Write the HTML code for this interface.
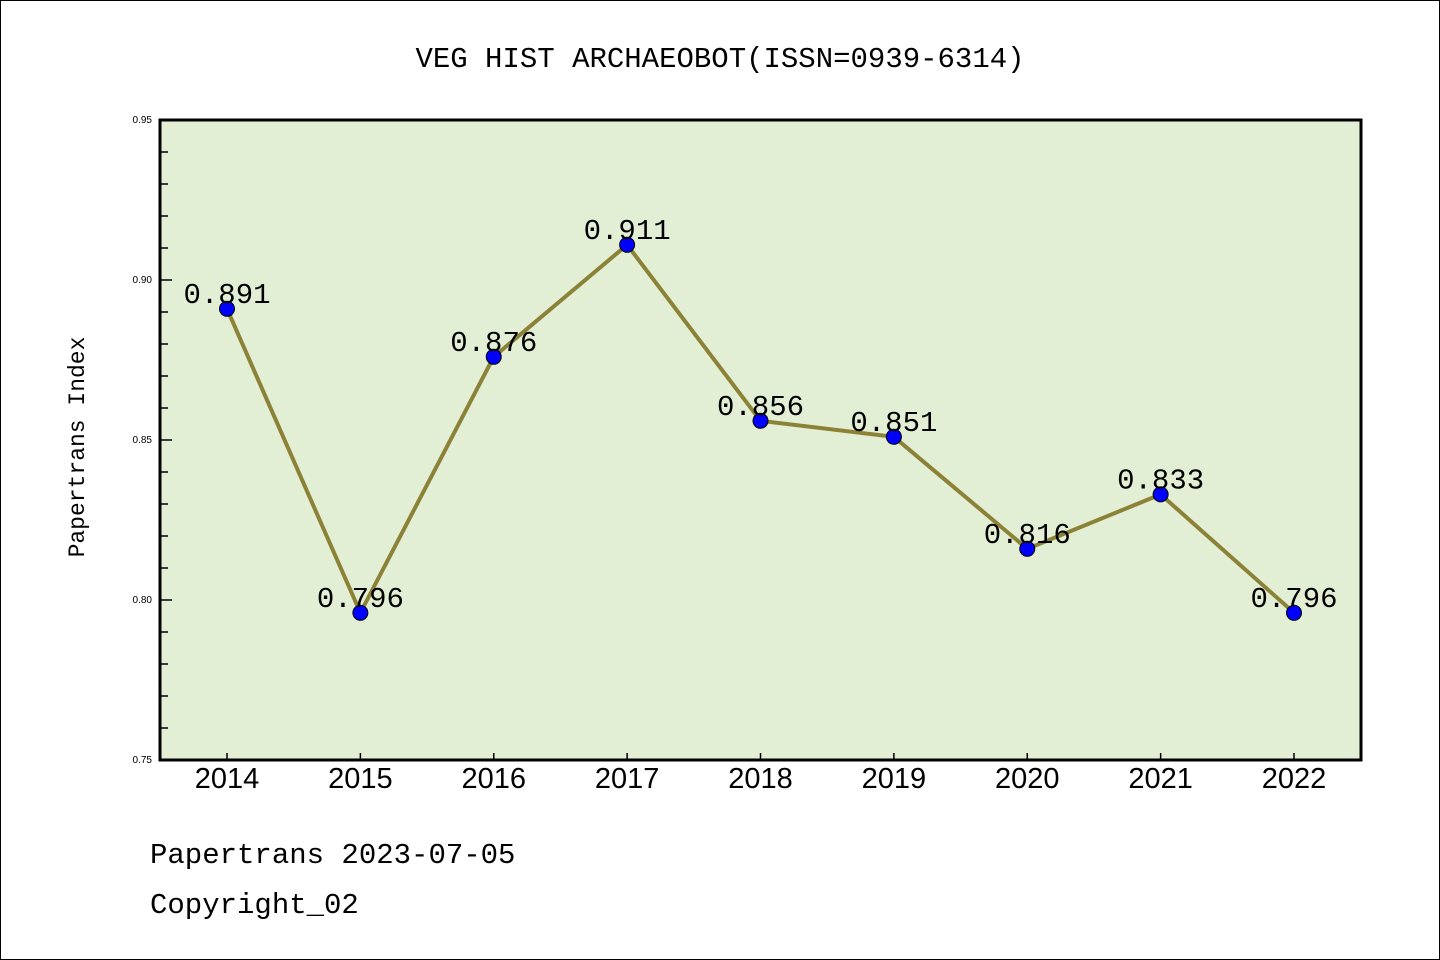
<!DOCTYPE html>
<html><head><meta charset="utf-8"><style>
body{margin:0;background:#fff}
svg{display:block;font-family:"Liberation Sans","WenQuanYi Zen Hei",sans-serif}
.mono{font-family:"WenQuanYi Zen Hei","Liberation Mono",monospace}
</style></head><body>
<svg id="c" width="1440" height="960">
<rect x="0.5" y="0.5" width="1439" height="959" fill="#fff" stroke="#000"/>
<text class="mono" x="720" y="67" font-size="29" text-anchor="middle">VEG HIST ARCHAEOBOT(ISSN=0939-6314)</text>
<rect x="160" y="120" width="1201" height="640" fill="#e2efd5"/>
<g id="yticks"></g><g id="xticks"></g><g id="series"></g>
<rect x="160" y="120" width="1201" height="640" fill="none" stroke="#000" stroke-width="3"/>
<text class="mono" x="84" y="447" font-size="23" text-anchor="middle" transform="rotate(-90 84 447)">Papertrans Index</text>
<text class="mono" x="150" y="863" font-size="29">Papertrans 2023-07-05</text>
<text class="mono" x="150" y="913" font-size="29">Copyright_02</text>
</svg>
<script>
const years=["2014","2015","2016","2017","2018","2019","2020","2021","2022"];
const values=[0.891,0.796,0.876,0.911,0.856,0.851,0.816,0.833,0.796];
const yTickLabels=["0.75","0.80","0.85","0.90","0.95"];
const NS="http://www.w3.org/2000/svg";
const yMin=0.75,yMax=0.95;
function ys(v){return 760-(v-yMin)/(yMax-yMin)*640;}
function xs(i){return 227+i*(1294-227)/(years.length-1);}
function mk(t,a,p){const e=document.createElementNS(NS,t);for(const k in a)e.setAttribute(k,a[k]);p.appendChild(e);return e;}
const yt=document.getElementById('yticks');
for(let k=0;k<=20;k++){const v=yMin+k*0.01;const y=ys(v);const major=k%5===0;
const l=mk('line',{x1:160,x2:major?172:168,y1:y,y2:y,stroke:'#000','stroke-width':1.5},yt);

}
yTickLabels.forEach(s=>{const t=mk('text',{x:152,y:ys(parseFloat(s))+3,'font-size':10,'text-anchor':'end'},yt);t.textContent=s;

});
const xt=document.getElementById('xticks');
years.forEach((yr,i)=>{const x=xs(i);
const l=mk('line',{x1:x,x2:x,y1:760,y2:753,stroke:'#000','stroke-width':1.5},xt);


const t=mk('text',{x:x,y:788,'font-size':29,'text-anchor':'middle'},xt);t.textContent=yr;

});
const sg=document.getElementById('series');
const pl=mk('polyline',{points:values.map((v,i)=>xs(i)+','+ys(v)).join(' '),fill:'none',stroke:'#8b8237','stroke-width':4},sg);


values.forEach((v,i)=>{const c=mk('circle',{cx:xs(i),cy:ys(v),r:7.5,fill:'#0000ff',stroke:'#000','stroke-width':1},sg);

});
values.forEach((v,i)=>{const t=mk('text',{x:xs(i),y:ys(v)-6,'font-size':29,'text-anchor':'middle',class:'mono'},sg);t.textContent=v.toFixed(3);

});
</script>
</body></html>
